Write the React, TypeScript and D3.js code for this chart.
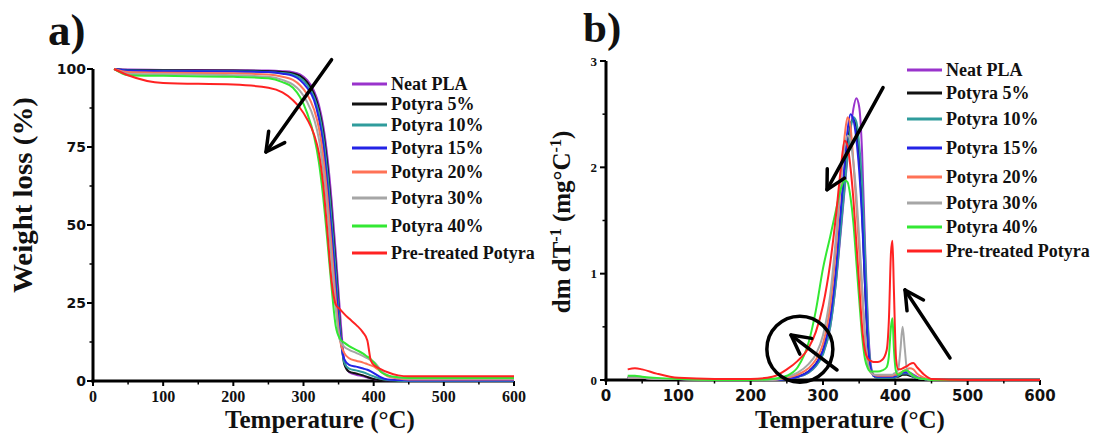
import React from "react";
import * as d3 from "d3";

const W = 1102;
const H = 435;
const SERIF = "'Liberation Serif', 'Times New Roman', serif";
const SANS = "'DejaVu Sans', sans-serif";

// legend / series
const seriesNames = [
  "Neat PLA",
  "Potyra 5%",
  "Potyra 10%",
  "Potyra 15%",
  "Potyra 20%",
  "Potyra 30%",
  "Potyra 40%",
  "Pre-treated Potyra",
];
const seriesColors = ["#9933cc", "#111111", "#2f9c9c", "#2323e6", "#ff7256", "#a6a6a6", "#33e833", "#ff2222"];

// a) TGA, weight %
const tgaTemps = [30, 50, 100, 200, 250, 270, 285, 295, 305, 315, 322, 328, 334, 340, 346, 352, 358, 365, 375, 385, 391, 396, 402, 410, 420, 435, 450, 500, 600];
const tgaNeat = [100, 99.8, 99.7, 99.6, 99.5, 99.3, 99, 98.3, 96.5, 93, 88.5, 82, 72, 58, 41, 22, 7, 2.8, 2, 1.5, 1.1, 0.8, 0.5, 0.3, 0.15, 0.1, 0.1, 0.1, 0.1];
const tgaP5 = [100, 99.7, 99.6, 99.5, 99.3, 99, 98.6, 97.8, 95.8, 92, 87, 80, 69, 54, 37, 18, 5.5, 3, 2.4, 1.8, 1.3, 0.9, 0.5, 0.2, 0.1, 0, 0, 0, 0];
const tgaP10 = [100, 99.5, 99.4, 99.3, 99, 98.7, 98.2, 97.2, 95, 91, 86, 78.5, 67, 52, 35, 17, 6, 4, 3.4, 2.8, 2.3, 1.8, 1.3, 0.7, 0.3, 0.1, 0, 0, 0];
const tgaP15 = [100, 99.5, 99.3, 99.2, 99, 98.5, 97.8, 96.5, 94, 90, 84, 76, 63, 48, 31, 15, 7, 5.2, 4.6, 4, 3.6, 3.1, 2.3, 1.2, 0.5, 0.3, 0.2, 0.2, 0.2];
const tgaP20 = [100, 99, 98.8, 98.6, 98.2, 97.5, 96.5, 94.8, 92, 87, 81, 72, 59, 43, 26, 13, 9, 7.3, 6.5, 5.9, 5.4, 5, 4.4, 3, 1.5, 0.8, 0.5, 0.5, 0.5];
const tgaP30 = [100, 98.5, 98.3, 98, 97.5, 96.5, 95, 93, 89.5, 84, 77.5, 68, 55, 39, 23, 13, 11, 10, 9, 8, 7.3, 6.7, 5.8, 3.5, 1.8, 1, 0.7, 0.7, 0.7];
const tgaP40 = [100, 98, 97.8, 97.5, 97, 95.8, 94, 91, 86, 78.5, 70, 59, 45, 30, 17.5, 13.5, 12.3, 11.2, 10, 8.8, 7.8, 7, 5.5, 3, 1.8, 1.2, 1, 1, 1];
const tgaPre = [100, 98, 95.5, 95, 94, 92.5, 90, 87.5, 84, 79, 73, 63, 48, 32, 24.5, 23, 21.5, 20, 18, 15.5, 13, 6.5, 4.8, 3.8, 2.8, 1.8, 1.5, 1.5, 1.5];
const tgaSeries = [tgaNeat, tgaP5, tgaP10, tgaP15, tgaP20, tgaP30, tgaP40, tgaPre];

// b) DTG
const dtgTemps = [30, 40, 50, 70, 100, 150, 200, 230, 250, 265, 280, 290, 300, 310, 318, 324, 330, 334, 338, 342, 346, 350, 354, 358, 362, 366, 370, 376, 382, 388, 391, 394, 396, 398, 401, 404, 407, 410, 413, 416, 420, 425, 430, 440, 450, 500, 600];
const dtgNeat = [0.02, 0.02, 0.02, 0.01, 0.01, 0, 0, 0, 0.01, 0.03, 0.07, 0.13, 0.25, 0.5, 0.92, 1.35, 1.8, 2.1, 2.35, 2.55, 2.65, 2.57, 2.15, 1.3, 0.55, 0.15, 0.05, 0.03, 0.03, 0.03, 0.03, 0.03, 0.03, 0.03, 0.04, 0.05, 0.06, 0.07, 0.08, 0.08, 0.07, 0.05, 0.03, 0.01, 0, 0, 0];
const dtgP5 = [0.02, 0.02, 0.02, 0.01, 0.01, 0, 0, 0, 0.01, 0.03, 0.08, 0.15, 0.28, 0.56, 1.0, 1.45, 1.92, 2.2, 2.4, 2.45, 2.38, 2.1, 1.6, 0.9, 0.35, 0.1, 0.04, 0.02, 0.02, 0.02, 0.02, 0.02, 0.02, 0.02, 0.03, 0.03, 0.04, 0.05, 0.05, 0.05, 0.04, 0.03, 0.02, 0.01, 0, 0, 0];
const dtgP10 = [0.02, 0.02, 0.02, 0.01, 0.01, 0, 0, 0, 0.01, 0.03, 0.07, 0.13, 0.24, 0.5, 0.93, 1.38, 1.83, 2.13, 2.36, 2.47, 2.43, 2.22, 1.85, 1.2, 0.5, 0.12, 0.04, 0.02, 0.02, 0.02, 0.02, 0.02, 0.02, 0.02, 0.03, 0.04, 0.05, 0.06, 0.06, 0.06, 0.05, 0.03, 0.02, 0.01, 0, 0, 0];
const dtgP15 = [0.02, 0.02, 0.02, 0.01, 0.01, 0, 0, 0, 0.01, 0.03, 0.08, 0.15, 0.28, 0.58, 1.05, 1.55, 2.05, 2.35, 2.5, 2.45, 2.27, 1.97, 1.52, 0.9, 0.35, 0.1, 0.04, 0.03, 0.03, 0.03, 0.03, 0.03, 0.03, 0.03, 0.04, 0.05, 0.06, 0.07, 0.07, 0.07, 0.06, 0.04, 0.02, 0.01, 0, 0, 0];
const dtgP20 = [0.02, 0.02, 0.02, 0.01, 0.01, 0, 0, 0, 0.02, 0.05, 0.11, 0.19, 0.34, 0.7, 1.25, 1.8, 2.3, 2.47, 2.38, 2.05, 1.65, 1.22, 0.8, 0.42, 0.16, 0.07, 0.05, 0.04, 0.04, 0.04, 0.04, 0.04, 0.04, 0.05, 0.05, 0.06, 0.07, 0.08, 0.09, 0.1, 0.11, 0.1, 0.06, 0.02, 0, 0, 0];
const dtgP30 = [0.02, 0.02, 0.02, 0.01, 0.01, 0, 0, 0, 0.03, 0.07, 0.15, 0.24, 0.42, 0.8, 1.35, 1.85, 2.2, 2.3, 2.25, 2.05, 1.75, 1.35, 0.9, 0.45, 0.15, 0.07, 0.05, 0.05, 0.05, 0.05, 0.05, 0.05, 0.05, 0.06, 0.07, 0.1, 0.28, 0.5, 0.3, 0.1, 0.06, 0.04, 0.02, 0.01, 0, 0, 0];
const dtgP40 = [0.04, 0.04, 0.03, 0.02, 0.01, 0, 0, 0.01, 0.04, 0.12, 0.35, 0.65, 1.05, 1.35, 1.6, 1.78, 1.88, 1.86, 1.72, 1.48, 1.12, 0.76, 0.42, 0.2, 0.11, 0.08, 0.08, 0.08, 0.09, 0.12, 0.22, 0.5, 0.58, 0.3, 0.08, 0.05, 0.06, 0.08, 0.09, 0.09, 0.07, 0.04, 0.02, 0.01, 0, 0, 0];
const dtgPre = [0.1, 0.11, 0.1, 0.06, 0.02, 0.01, 0.01, 0.03, 0.1, 0.18, 0.3, 0.45, 0.7, 1.1, 1.55, 1.95, 2.25, 2.2, 2.0, 1.7, 1.3, 0.9, 0.5, 0.28, 0.2, 0.18, 0.17, 0.17, 0.19, 0.28, 0.55, 1.2, 1.31, 0.85, 0.2, 0.1, 0.1, 0.11, 0.12, 0.13, 0.15, 0.16, 0.12, 0.05, 0.01, 0, 0];
const dtgSeries = [dtgNeat, dtgP5, dtgP10, dtgP15, dtgP20, dtgP30, dtgP40, dtgPre];

const xTicks = [0, 100, 200, 300, 400, 500, 600];
const tgaYTicks = [0, 25, 50, 75, 100];
const dtgYTicks = [0, 1, 2, 3];

// annotations, in data units [temp, value]
const tgaArrow = { from: [340, 103], to: [246.5, 73.4] };
const dtgArrows = [
  { from: [383, 2.75], to: [305.5, 1.79] },
  { from: [475.6, 0.207], to: [413.4, 0.847] },
  { from: [319.4, 0.094], to: [255.8, 0.423] },
];
const dtgCircle = { at: [268, 0.29], r: 33 };

// legend row offsets (layout only)
const legendRowsA = [84, 104, 125, 148, 172, 198, 226, 253];
const legendRowsB = [70, 93, 119, 148, 177, 203, 227, 251];

const xA = d3.scaleLinear().domain([0, 600]).range([93, 514]);
const yA = d3.scaleLinear().domain([0, 100]).range([381, 69]);
const xB = d3.scaleLinear().domain([0, 600]).range([606, 1040]);
const yB = d3.scaleLinear().domain([0, 3]).range([380, 61]);

function Arrow({ x1, y1, x2, y2 }: { x1: number; y1: number; x2: number; y2: number }) {
  const a = Math.atan2(y1 - y2, x1 - x2);
  const L = 21;
  const s = (28 * Math.PI) / 180;
  const p1 = [x2 + L * Math.cos(a - s), y2 + L * Math.sin(a - s)];
  const p2 = [x2 + L * Math.cos(a + s), y2 + L * Math.sin(a + s)];
  return (
    <g stroke="#000" strokeWidth={3.5} fill="none" strokeLinecap="round" strokeLinejoin="round">
      <line x1={x1} y1={y1} x2={x2} y2={y2} />
      <polyline points={`${p1[0]},${p1[1]} ${x2},${y2} ${p2[0]},${p2[1]}`} />
    </g>
  );
}

function Axes({ x, y, yTicks, yMinor, xFont, yFont }: any) {
  const [x0, x1] = x.range();
  const [y0, y1] = y.range();
  const minorX = d3.range(50, 600, 100);
  return (
    <g>
      {yTicks.map((t: number) => (
        <line key={"yt" + t} x1={x0 - 6} x2={x0} y1={y(t)} y2={y(t)} stroke="#000" strokeWidth={2} />
      ))}
      {yMinor.map((t: number) => (
        <line key={"ym" + t} x1={x0 - 3.5} x2={x0} y1={y(t)} y2={y(t)} stroke="#000" strokeWidth={1.5} />
      ))}
      {xTicks.map((t) => (
        <line key={"xt" + t} x1={x(t)} x2={x(t)} y1={y0} y2={y0 + 5} stroke="#000" strokeWidth={2} />
      ))}
      {minorX.map((t) => (
        <line key={"xm" + t} x1={x(t)} x2={x(t)} y1={y0} y2={y0 + 3.5} stroke="#000" strokeWidth={1.5} />
      ))}
      <line x1={x0} x2={x0} y1={y1} y2={y0 + 1.5} stroke="#000" strokeWidth={3} />
      <line x1={x0 - 1.5} x2={x1} y1={y0} y2={y0} stroke="#000" strokeWidth={3} />
      {yTicks.map((t: number) => (
        <text key={"yl" + t} x={x0 - yFont.off} y={y(t)} dy="0.36em" textAnchor="end" fontFamily={yFont.family}
          fontWeight="bold" fontSize={yFont.size} fill="#111">{t}</text>
      ))}
      {xTicks.map((t) => (
        <text key={"xl" + t} x={x(t)} y={xFont.base} textAnchor="middle" fontFamily={xFont.family}
          fontWeight="bold" fontSize={xFont.size} fill="#111">{t}</text>
      ))}
    </g>
  );
}

function Legend({ x, rows }: { x: number; rows: number[] }) {
  return (
    <g>
      {seriesNames.map((n, i) => (
        <g key={n}>
          <line x1={x} x2={x + 35} y1={rows[i]} y2={rows[i]} stroke={seriesColors[i]} strokeWidth={3} />
          <text x={x + 39} y={rows[i]} dy="0.33em" fontFamily={SERIF} fontWeight="bold" fontSize={18} fill="#111">{n}</text>
        </g>
      ))}
    </g>
  );
}

export default function App() {
  const lineA = (vals: number[]) =>
    d3.line<number>().x((_, i) => xA(tgaTemps[i])).y((v) => yA(v)).curve(d3.curveMonotoneX)(vals) || "";
  const lineB = (vals: number[]) =>
    d3.line<number>().x((_, i) => xB(dtgTemps[i])).y((v) => yB(v)).curve(d3.curveMonotoneX)(vals) || "";

  return (
    <svg width={W} height={H} style={{ position: "absolute", left: 0, top: 0, background: "#fff" }}>
      <rect width={W} height={H} fill="#fff" />

      {/* panel a */}
      <text x={48} y={45} fontFamily={SERIF} fontWeight="bold" fontSize={45} fill="#111">a)</text>
      <Axes x={xA} y={yA} yTicks={tgaYTicks} yMinor={[12.5, 37.5, 62.5, 87.5]}
        xFont={{ family: SERIF, size: 16, base: 402 }} yFont={{ family: SANS, size: 14, off: 7 }} />
      {tgaSeries.map((s, i) => (
        <path key={i} d={lineA(s)} fill="none" stroke={seriesColors[i]} strokeWidth={2} />
      ))}
      <Arrow x1={xA(tgaArrow.from[0])} y1={yA(tgaArrow.from[1])} x2={xA(tgaArrow.to[0])} y2={yA(tgaArrow.to[1])} />
      <Legend x={352} rows={legendRowsA} />
      <text transform="translate(32,195) rotate(-90)" textAnchor="middle" fontFamily={SERIF} fontWeight="bold"
        fontSize={27} fill="#111" textLength={196} lengthAdjust="spacingAndGlyphs">Weight loss (%)</text>
      <text x={320} y={428} textAnchor="middle" fontFamily={SERIF} fontWeight="bold" fontSize={25} fill="#111">
        Temperature (°C)
      </text>

      {/* panel b */}
      <text x={583} y={42} fontFamily={SERIF} fontWeight="bold" fontSize={43} fill="#111">b)</text>
      <Axes x={xB} y={yB} yTicks={dtgYTicks} yMinor={[0.5, 1.5, 2.5]}
        xFont={{ family: SANS, size: 15, base: 401 }} yFont={{ family: SERIF, size: 13, off: 9 }} />
      {dtgSeries.map((s, i) => (
        <path key={i} d={lineB(s)} fill="none" stroke={seriesColors[i]} strokeWidth={2} />
      ))}
      {dtgArrows.map((a, i) => (
        <Arrow key={i} x1={xB(a.from[0])} y1={yB(a.from[1])} x2={xB(a.to[0])} y2={yB(a.to[1])} />
      ))}
      <circle cx={xB(dtgCircle.at[0])} cy={yB(dtgCircle.at[1])} r={dtgCircle.r} fill="none" stroke="#000" strokeWidth={3.5} />
      <Legend x={907} rows={legendRowsB} />
      <text transform="translate(570,222) rotate(-90)" textAnchor="middle" fontFamily={SERIF} fontWeight="bold"
        fontSize={25} fill="#111">
        dm dT<tspan dy={-9} fontSize={16}>-1</tspan>
        <tspan dy={9}> (mg°C</tspan>
        <tspan dy={-9} fontSize={16}>-1</tspan>
        <tspan dy={9}>)</tspan>
      </text>
      <text x={850} y={428} textAnchor="middle" fontFamily={SERIF} fontWeight="bold" fontSize={25} fill="#111">
        Temperature (°C)
      </text>
    </svg>
  );
}
